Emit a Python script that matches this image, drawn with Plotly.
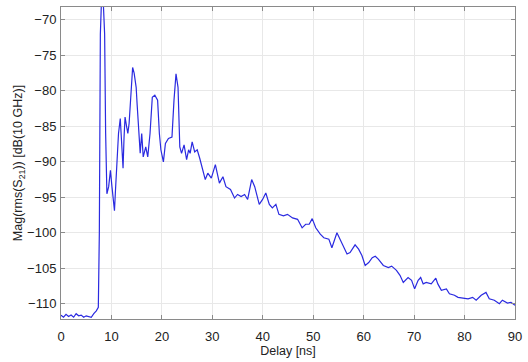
import plotly.graph_objects as go

delay_ns = [
    0, 0.5, 1.0, 1.5, 2.0, 2.5, 3.0, 3.5, 4.0, 4.5, 5.0, 5.5, 6.0, 6.5, 7.0, 7.4,
    7.6, 7.8, 8.0, 8.4, 8.65, 8.85, 9.1, 9.45, 9.8, 10.1, 10.4, 10.6, 10.8, 11.1,
    11.4, 11.75, 12.1, 12.3, 12.5, 12.7, 13.0, 13.25, 13.5, 13.9, 14.2, 14.5,
    14.9, 15.1, 15.35, 15.7, 16.0, 16.3, 16.8, 17.2, 17.65, 17.9, 18.1, 18.6,
    19.15, 19.5, 19.8, 20.3, 20.7, 21.3, 22.0, 22.4, 22.8, 23.2, 23.55, 23.9,
    24.4, 24.9, 25.3, 25.6, 26.0, 26.5, 27.0, 27.5, 28.15, 28.6, 29.1, 29.8,
    30.6, 31.1, 31.4, 32.1, 32.7, 33.6, 34.4, 35.0, 35.7, 36.4, 37.0, 37.8,
    38.4, 39.3, 39.96, 40.6, 41.3, 41.9, 42.6, 43.2, 44.1, 44.9, 45.9, 46.9,
    47.8, 48.5, 49.2, 49.8, 50.5, 51.4, 52.1, 53.1, 53.7, 54.7, 55.4, 56.0,
    56.7, 57.3, 58.3, 59.0, 59.65, 60.3, 61.0, 61.7, 62.3, 62.9, 63.9, 64.9,
    65.55, 66.5, 67.2, 67.85, 68.8, 69.5, 70.1, 70.8, 71.3, 71.8, 72.4, 73.4,
    74.3, 74.7, 75.4, 76.4, 77.0, 78.0, 78.7, 79.7, 80.7, 81.6, 82.3, 83.3,
    84.25, 84.9, 85.9, 86.9, 87.5, 88.5, 89.2, 90.0,
]
mag_db = [
    -111.6, -111.9, -111.5, -111.8, -111.6, -111.9, -111.4, -111.7, -111.6, -111.9,
    -111.7, -111.8, -111.9, -111.4, -111.0, -110.5,
    -100.0, -72.0, -67.8, -67.8, -72.0, -86.0, -94.5, -93.5, -91.2, -93.5, -95.5,
    -96.9, -94.0, -89.0, -86.0, -83.9, -88.3, -90.9, -86.5, -83.7, -85.0, -86.0,
    -84.6, -79.5, -76.7, -77.5, -79.5, -82.0, -84.6, -88.8, -86.0, -89.3, -87.9,
    -89.3, -86.0, -82.5, -80.9, -80.6, -81.3, -86.0, -88.3, -90.0, -87.4, -86.7,
    -86.5, -81.3, -77.6, -79.5, -87.9, -88.8, -87.6, -89.7, -88.3, -88.8, -87.2,
    -88.6, -88.3, -89.5, -91.1, -92.5, -91.6, -92.3, -90.4, -91.8, -93.0, -92.1,
    -93.5, -93.9, -95.1, -94.6, -94.9, -94.6, -95.3, -92.5, -93.5, -96.0, -95.3,
    -94.4, -96.0, -96.5, -96.0, -97.4, -97.6, -97.4, -97.9, -98.1, -99.3, -98.8,
    -98.8, -98.0, -99.3, -100.2, -100.7, -100.9, -102.1, -100.0, -101.1, -101.8,
    -103.0, -102.8, -101.7, -102.3, -103.2, -104.6, -104.2, -103.5, -103.3,
    -103.7, -104.6, -104.9, -104.7, -105.3, -106.0, -107.0, -106.3, -106.7,
    -107.9, -106.7, -106.3, -107.2, -107.0, -107.2, -106.4, -107.2, -108.1,
    -107.9, -108.6, -108.8, -109.1, -109.2, -109.3, -109.1, -109.5, -108.8,
    -108.4, -109.3, -109.5, -110.0, -109.5, -109.9, -109.8, -110.2,
]

x_ticks = [0, 10, 20, 30, 40, 50, 60, 70, 80, 90]
y_ticks = [-110, -105, -100, -95, -90, -85, -80, -75, -70]

fig = go.Figure()
fig.add_trace(go.Scatter(
    x=delay_ns, y=mag_db, mode="lines",
    line=dict(color="#2a2ae0", width=1.2),
    showlegend=False,
))

axis_common = dict(
    showline=True, linecolor="#8a8a8a", linewidth=1, mirror="ticks",
    ticks="inside", ticklen=4, tickcolor="#8a8a8a",
    showgrid=True, gridcolor="#e8e8e8", gridwidth=1,
    zeroline=False,
    tickfont=dict(family="Liberation Sans, Arial, sans-serif", size=13, color="#222"),
)

fig.update_layout(
    width=528, height=362,
    margin=dict(l=61, r=9, t=6, b=43),
    paper_bgcolor="white", plot_bgcolor="white",
    font=dict(family="Liberation Sans, Arial, sans-serif", size=12, color="#222"),
    xaxis=dict(
        range=[0, 90], tickvals=x_ticks,
        title=dict(text="Delay [ns]", standoff=3, font=dict(size=12.5)),
        ticklabelstandoff=5,
        **axis_common,
    ),
    yaxis=dict(
        range=[-112.15, -68.18], tickvals=y_ticks,
        title=dict(text="Mag(rms(S<sub>21</sub>)) [dB(10 GHz)]", standoff=1,
                   font=dict(size=12.5)),
        ticklabelstandoff=1,
        **axis_common,
    ),
)

fig.write_html("out.html")
